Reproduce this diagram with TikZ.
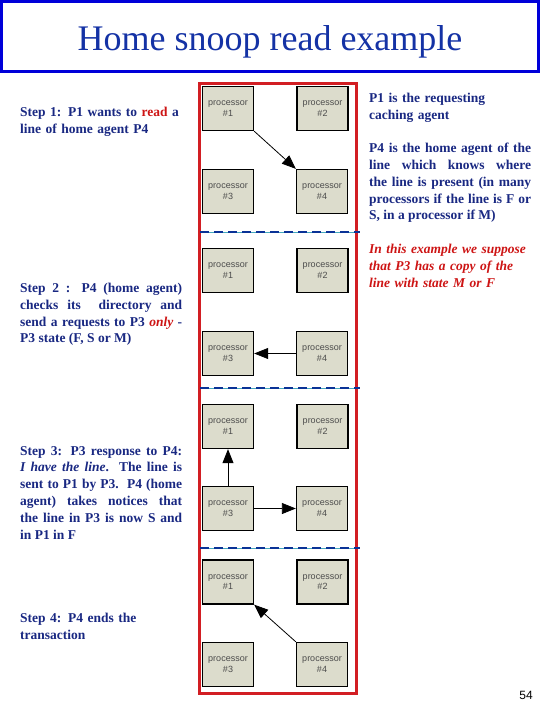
\documentclass[tikz,border=0pt]{standalone}
\usepackage{fontspec}
\setmainfont{Liberation Serif}
\newfontfamily\arialfont{Liberation Sans}
\usetikzlibrary{arrows.meta}
\definecolor{titleblue}{RGB}{20,50,165}
\definecolor{bodyblue}{RGB}{25,40,130}
\definecolor{hilite}{RGB}{205,20,20}
\definecolor{boxred}{RGB}{210,30,35}
\definecolor{procfill}{RGB}{220,220,204}
\definecolor{dashblue}{RGB}{10,50,150}
\definecolor{thincyan}{RGB}{70,170,190}
\begin{document}
\begin{tikzpicture}[x=1pt,y=-1pt,
  proc/.style={draw=black,line width=1.3pt,fill=procfill,minimum width=51pt,minimum height=44pt,inner sep=0pt,align=center,font=\arialfont\fontsize{9}{10.5}\selectfont,text=black!70},
  msg/.style={-{Triangle[length=14pt,width=11pt]},line width=0.8pt,black},
  bodytext/.style={anchor=north west,inner sep=0pt,text=bodyblue,font=\bfseries\fontsize{13.5}{16.8}\selectfont,text width=162pt},
  sep/.style={line width=2.8pt,dashblue,dash pattern=on 9pt off 5pt}]
\useasboundingbox (0,0) rectangle (540,720);
% title
\draw[line width=3pt,blue!85!black] (1.5,1.5) rectangle (538.5,71.5);
\node[text=titleblue,font=\fontsize{36}{40}\selectfont,inner sep=0pt,anchor=base] (title) at (270,50) {Home snoop read example};
% red frame
\draw[line width=3pt,boxred] (199,83) rectangle (356,693);
% separators
\foreach \yy in {232,388,548}{
  \draw[line width=0.8pt,thincyan] (200,\yy) -- (360,\yy);
  \draw[sep] (200,\yy) -- (360,\yy);
}
% panel 1
\node[proc] (a1) at (228,108.5) {processor\\\#1};
\node[proc] (a2) at (322.5,108.5) {processor\\\#2};
\node[proc] (a3) at (228,191.5) {processor\\\#3};
\node[proc] (a4) at (322,191.5) {processor\\\#4};
\draw[msg] (a1.south east) -- (a4.north west);
% panel 2
\node[proc] (b1) at (228,270.5) {processor\\\#1};
\node[proc] (b2) at (322.5,270.5) {processor\\\#2};
\node[proc] (b3) at (228,353.5) {processor\\\#3};
\node[proc] (b4) at (322,353.5) {processor\\\#4};
\draw[msg] (b4.west) -- (b3.east);
% panel 3
\node[proc] (c1) at (228,426.5) {processor\\\#1};
\node[proc] (c2) at (322.5,426.5) {processor\\\#2};
\node[proc] (c3) at (228,508.5) {processor\\\#3};
\node[proc] (c4) at (322,508.5) {processor\\\#4};
\draw[msg] (c3.north) -- (c1.south);
\draw[msg] (c3.east) -- (c4.west);
% panel 4
\node[proc] (d1) at (228,582) {processor\\\#1};
\node[proc] (d2) at (322.5,582) {processor\\\#2};
\node[proc] (d3) at (228,664.5) {processor\\\#3};
\node[proc] (d4) at (322,664.5) {processor\\\#4};
\draw[msg] (d4.north west) -- (d1.south east);
% left texts
\node[bodytext,align=left] (s1) at (20,107) {Step 1: P1 wants to \textcolor{hilite}{read} a\\line of home agent P4};
\node[bodytext,align=justify] (s2) at (20,283) {Step 2 : P4 (home agent)\linebreak checks its\ \ directory and\linebreak send a requests to P3 \textcolor{hilite}{\textit{only}} -\linebreak P3 state (F, S or M)};
\node[bodytext,align=justify] (s3) at (20,446) {Step 3: P3 response to P4:\linebreak \textit{I have the line}. The line is\linebreak sent to P1 by P3.\ \ P4 (home\linebreak agent) takes notices that\linebreak the line in P3 is now S and\linebreak in P1 in F};
\node[bodytext,align=left] (s4) at (20,613) {Step 4: P4 ends the\\transaction};
% right texts
\node[bodytext,align=left] (r1) at (369,93) {P1 is the requesting\\caching agent};
\node[bodytext,align=justify] (r2) at (369,143) {P4 is the home agent of the\linebreak line which knows where\linebreak the line is present (in many\linebreak processors if the line is F or\linebreak S, in a processor if M)};
\node[bodytext,align=left,text=hilite,font=\bfseries\itshape\fontsize{13.5}{16.8}\selectfont] (r3) at (369,244) {In this example we suppose\\that P3 has a copy of the\\line with state M or F};
% page number
\node[font=\arialfont\fontsize{12}{14}\selectfont,inner sep=0pt] (pg) at (526,695) {54};
\end{tikzpicture}
\end{document}
